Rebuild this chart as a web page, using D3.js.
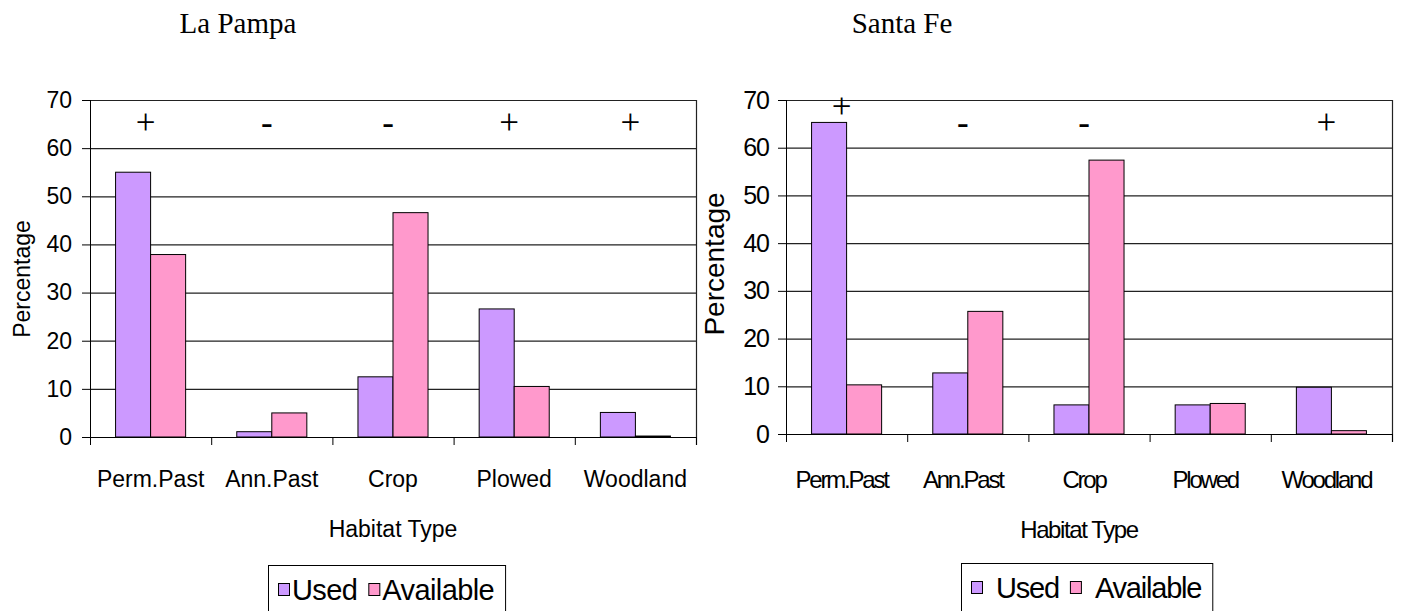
<!DOCTYPE html>
<html>
<head>
<meta charset="utf-8">
<script src="https://cdn.jsdelivr.net/npm/d3@7"></script>
<style>
  body { margin: 0; background: #fff; }
  svg { display: block; }
  text { font-family: "Liberation Sans", Arial, sans-serif; fill: #000; }
</style>
</head>
<body>
<div id="chart"></div>
<script>
var categories = ['Perm.Past', 'Ann.Past', 'Crop', 'Plowed', 'Woodland'];
var seriesNames = ['Used', 'Available'];
var seriesColors = ['#cc99ff', '#ff99cc'];

// La Pampa
var pampaUsed = [55, 1.1, 12.5, 26.6, 5.1];
var pampaAvailable = [37.9, 5, 46.6, 10.5, 0.2];
var pampaSigns = ['+', '-', '-', '+', '+'];
var pampaSignLevel = [65, 65, 65, 65, 65];

// Santa Fe
var santaUsed = [65.3, 12.8, 6.1, 6.1, 9.8];
var santaAvailable = [10.3, 25.7, 57.4, 6.4, 0.7];
var santaSigns = ['+', '-', '-', '', '+'];
var santaSignLevel = [68.3, 65, 65, 65, 65];

var yTicks = [0, 10, 20, 30, 40, 50, 60, 70];

var W = 1403, H = 611;
var svg = d3.select('#chart').append('svg').attr('width', W).attr('height', H);

function drawChart(o) {
  var x = d3.scaleBand().domain(categories).range([o.left, o.right]);
  var y = d3.scaleLinear().domain([0, 70]).range([o.bottom, o.top]);
  var xi = d3.scaleBand().domain(seriesNames).range([0, x.bandwidth()]).paddingOuter(0.73);

  var g = svg.append('g');

  // title
  g.append('text').attr('x', o.titleX).attr('y', 33)
    .attr('text-anchor', 'middle')
    .style('font-family', '"Liberation Serif", "Times New Roman", serif')
    .style('font-size', '29px')
    .text(o.title);

  // gridlines
  g.selectAll('.grid').data(yTicks.slice(1)).enter().append('line')
    .attr('x1', o.left).attr('x2', o.right)
    .attr('y1', function (d) { return y(d) + 0.5; })
    .attr('y2', function (d) { return y(d) + 0.5; })
    .attr('stroke', '#222').attr('stroke-width', 1.2);

  // right frame
  g.append('line').attr('x1', o.right + 0.5).attr('x2', o.right + 0.5)
    .attr('y1', y(70)).attr('y2', y(0) + 8)
    .attr('stroke', '#222').attr('stroke-width', 1.2);

  // bars
  var rows = categories.map(function (c, i) {
    return { cat: c, vals: [o.used[i], o.avail[i]] };
  });
  var grp = g.selectAll('.grp').data(rows).enter().append('g')
    .attr('transform', function (d) { return 'translate(' + x(d.cat) + ',0)'; });
  grp.selectAll('rect').data(function (d) {
    return d.vals.map(function (v, k) { return { s: seriesNames[k], v: v, k: k }; });
  }).enter().append('rect')
    .attr('x', function (d) { return xi(d.s); })
    .attr('y', function (d) { return y(d.v); })
    .attr('width', xi.bandwidth())
    .attr('height', function (d) { return y(0) - y(d.v); })
    .attr('fill', function (d) { return seriesColors[d.k]; })
    .attr('stroke', '#000').attr('stroke-width', 1);

  // y axis
  var yAxis = d3.axisLeft(y).tickValues(yTicks).tickSize(8).tickPadding(o.tickPad);
  var ya = g.append('g').attr('transform', 'translate(' + o.left + ',0)').call(yAxis);
  ya.select('.domain').attr('d', 'M0.5,' + y(70) + 'V' + (y(0) + 8)).attr('stroke', '#000');
  ya.selectAll('.tick line').attr('stroke', '#000');
  ya.selectAll('text').style('font-family', '"Liberation Sans", Arial, sans-serif')
    .style('font-size', o.tickFont).style('letter-spacing', o.tickSpacing).attr('fill', '#000');

  // x axis
  var xa = g.append('g').attr('transform', 'translate(0,' + y(0) + ')');
  xa.append('line').attr('x1', o.left).attr('x2', o.right).attr('y1', 0.5).attr('y2', 0.5).attr('stroke', '#000');
  xa.selectAll('.xt').data(d3.range(categories.length + 1)).enter().append('line')
    .attr('x1', function (i) { return o.left + i * x.step() + 0.5; })
    .attr('x2', function (i) { return o.left + i * x.step() + 0.5; })
    .attr('y1', 0).attr('y2', 8).attr('stroke', '#000');
  g.selectAll('.xl').data(categories).enter().append('text')
    .attr('x', function (d) { return x(d) + x.bandwidth() / 2 + o.catShift; })
    .attr('y', o.catY)
    .attr('text-anchor', 'middle')
    .style('font-size', o.catFont).style('letter-spacing', o.catSpacing)
    .text(function (d) { return d; });

  // axis titles
  g.append('text').attr('x', (o.left + o.right) / 2 + o.xTitleShift).attr('y', o.catY + 50)
    .attr('text-anchor', 'middle')
    .style('font-size', o.catFont).style('letter-spacing', o.xTitleSpacing)
    .text('Habitat Type');
  g.append('text')
    .attr('transform', 'translate(' + o.yTitleX + ',' + o.yTitleY + ') rotate(-90)')
    .attr('text-anchor', 'middle')
    .style('font-size', o.yTitleFont)
    .text('Percentage');

  // significance signs
  g.selectAll('.sign').data(categories).enter().append('text')
    .attr('x', function (d) { return x(d) + x.bandwidth() / 2 - 5; })
    .attr('y', function (d, i) { return y(o.signLevel[i]) + 10; })
    .attr('text-anchor', 'middle')
    .style('font-family', '"Liberation Serif", "Times New Roman", serif')
    .style('font-size', '35px')
    .text(function (d, i) { return o.signs[i]; });

  // legend
  var lg = g.append('g').attr('transform', 'translate(' + o.legX + ',' + o.legY + ')');
  var box = lg.append('rect').attr('x', 0.5).attr('y', 0.5).attr('height', 60)
    .attr('fill', 'none').attr('stroke', '#000');
  var cx = 10;
  seriesNames.forEach(function (s, k) {
    lg.append('rect').attr('x', cx + 0.5).attr('y', 18.5).attr('width', 11).attr('height', 12)
      .attr('fill', seriesColors[k]).attr('stroke', '#000');
    var t = lg.append('text').attr('x', cx + o.legGap).attr('y', 35)
      .style('font-size', '29px').style('letter-spacing', o.legSpacing).text(s);
    cx += o.legGap + t.node().getComputedTextLength() + 11;
  });
  box.attr('width', cx);
}

drawChart({
  title: 'La Pampa', titleX: 238,
  left: 90, right: 696, top: 100, bottom: 437,
  used: pampaUsed, avail: pampaAvailable, signs: pampaSigns, signLevel: pampaSignLevel,
  tickPad: 10, tickFont: '23px', tickSpacing: '0px',
  catY: 487, catFont: '23px', catSpacing: '0px', catShift: 0,
  xTitleShift: 0, xTitleSpacing: '0px',
  yTitleX: 30, yTitleY: 279, yTitleFont: '23px',
  legX: 268, legY: 565, legSpacing: '-0.6px', legGap: 14
});

drawChart({
  title: 'Santa Fe', titleX: 902,
  left: 786, right: 1392, top: 100, bottom: 434,
  used: santaUsed, avail: santaAvailable, signs: santaSigns, signLevel: santaSignLevel,
  tickPad: 9, tickFont: '25px', tickSpacing: '-1px',
  catY: 488, catFont: '24px', catSpacing: '-2.2px', catShift: -5,
  xTitleShift: -10, xTitleSpacing: '-1.4px',
  yTitleX: 724, yTitleY: 264, yTitleFont: '28px',
  legX: 961, legY: 563, legSpacing: '-1.2px', legGap: 25
});
</script>
</body>
</html>
